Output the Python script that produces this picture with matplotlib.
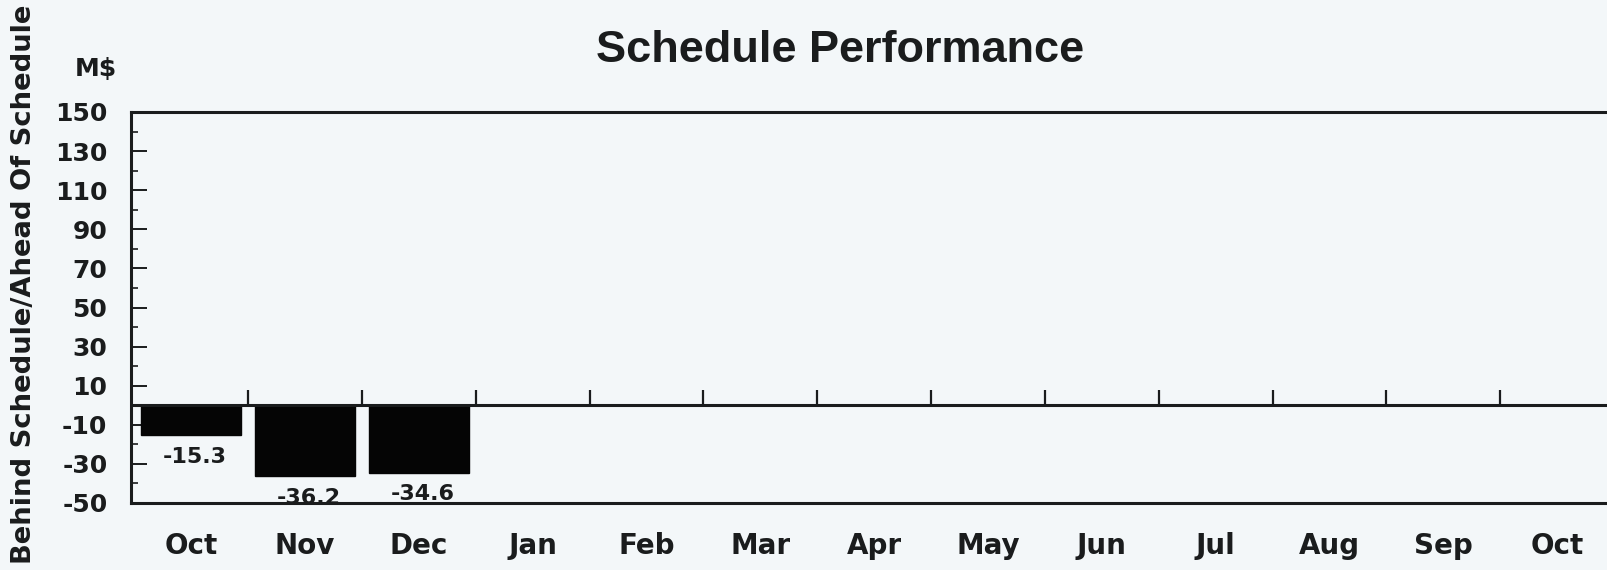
import numpy as np
import matplotlib
matplotlib.use('Agg')
import matplotlib.pyplot as plt
from matplotlib.ticker import FixedLocator

plt.rcParams['font.family'] = ['DejaVu Sans']
plt.rcParams['font.weight'] = 'bold'
plt.rcParams['axes.unicode_minus'] = False

BG   = "#F3F7F9"
INK  = "#1a1c1d"

months = ["Oct", "Nov", "Dec", "Jan", "Feb", "Mar", "Apr",
          "May", "Jun", "Jul", "Aug", "Sep", "Oct"]
values = [-15.3, -36.2, -34.6]          # only first three months reported
labels = ["-15.3", "-36.2", "-34.6"]
y_ticks = [150, 130, 110, 90, 70, 50, 30, 10, -10, -30, -50]
y_minor = [140, 120, 100, 80, 60, 40, 20, 0, -20, -40]

fig = plt.figure(figsize=(16.08, 5.70), dpi=100, facecolor=BG)
ax = fig.add_axes([131/1608, 67/570, 1483/1608, 391/570], facecolor=BG)

x = np.arange(len(months))
ax.bar(x[:len(values)], values, width=0.88, color="#050505", edgecolor="#050505", zorder=3)

# value labels sit ~11 units below the bar end
for xi, v, lab in zip(x, values, labels):
    ax.text(xi + 0.03, v - 11, lab, ha="center", va="center",
            fontsize=16, fontweight="bold", color=INK, zorder=4)

ax.set_xlim(-0.53, len(months) - 0.5)
ax.set_ylim(-50, 150)

# zero line with boundary ticks
ax.axhline(0, color=INK, lw=2.2, zorder=5)
ax.vlines(x[:-1] + 0.5, 0, 7.6, color=INK, lw=1.6, zorder=5)

ax.set_yticks(y_ticks)
ax.yaxis.set_minor_locator(FixedLocator(y_minor))
ax.tick_params(axis="y", which="major", direction="in", length=11.5, width=1.4,
               color=INK, labelsize=18, pad=17, labelcolor=INK)
ax.tick_params(axis="y", which="minor", direction="in", length=5, width=1.2, color=INK)
ax.set_xticks(x)
ax.set_xticklabels(months)
ax.tick_params(axis="x", length=0, labelsize=20, pad=21, labelcolor=INK)
for t in ax.get_yticklabels() + ax.get_xticklabels():
    t.set_fontweight("bold")

for side in ["top", "left", "bottom", "right"]:
    ax.spines[side].set_color(INK)
    ax.spines[side].set_linewidth(2.2)

fig.text(840/1608, 1 - 51/570, "Schedule Performance", ha="center", va="center",
         fontsize=32.5, fontweight="bold", color=INK, family="Liberation Sans")
fig.text(96/1608, 1 - 69/570, "M$", ha="center", va="center",
         fontsize=18, fontweight="bold", color=INK)
fig.text(24/1608, 1 - 284/570, "Behind Schedule/Ahead Of Schedule", rotation=90,
         ha="center", va="center", fontsize=19.7, fontweight="bold", color=INK)

fig.savefig("out.png", dpi=100, facecolor=BG)
